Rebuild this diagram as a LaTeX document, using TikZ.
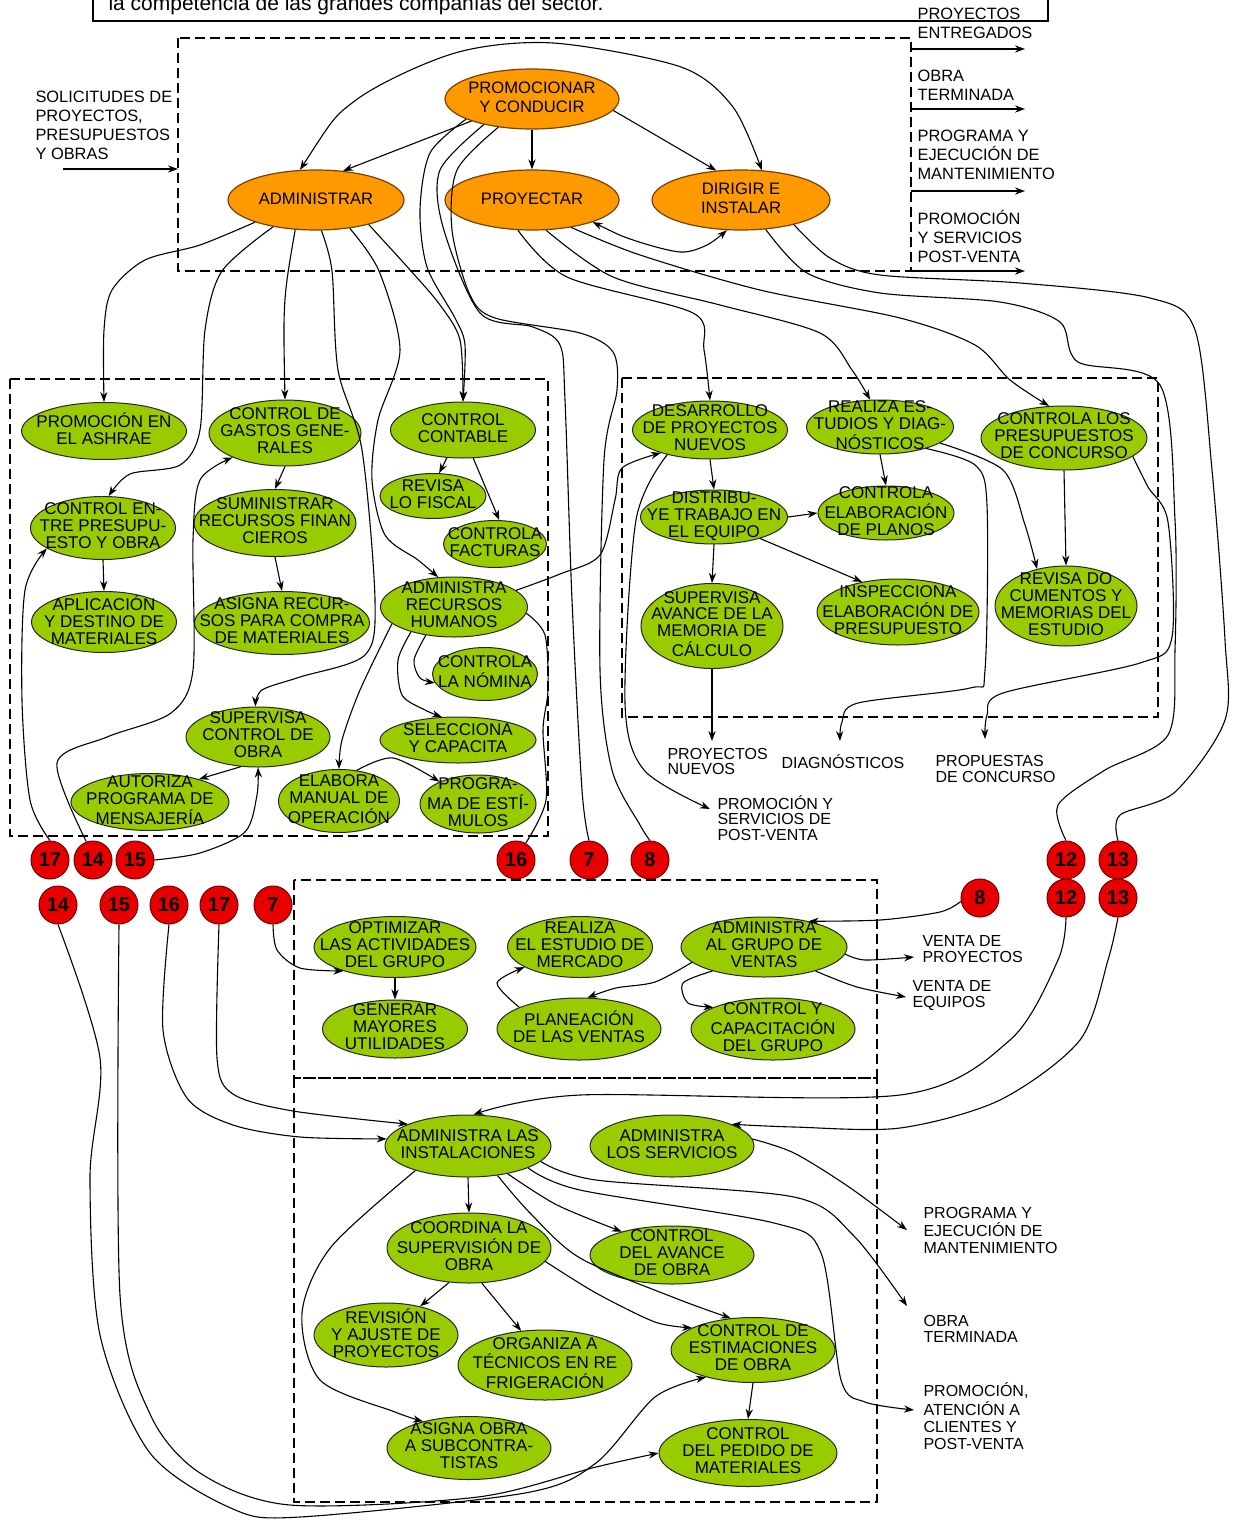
\documentclass[tikz,border=0pt]{standalone}
\usepackage{fontspec}
\setmainfont{Liberation Sans}
\usetikzlibrary{shapes,arrows,arrows.meta,positioning}
\definecolor{orangeP}{RGB}{255,153,0}
\definecolor{orangeD}{RGB}{120,65,0}
\definecolor{greenA}{RGB}{153,204,0}
\definecolor{redC}{RGB}{232,0,0}
\newcommand{\ovaltext}[1]{\makebox[0pt]{\raisebox{-2.2pt}[0pt][0pt]{\begin{tabular}{@{}c@{}}#1\end{tabular}}}}
\newcommand{\labeltext}[1]{\begin{tabular}[t]{@{}l@{}}#1\end{tabular}}

\begin{document}
\begin{tikzpicture}[
    x=0.5pt, y=-0.5pt,
    >={Stealth[length=5pt,width=3.6pt]},
    proc/.style={ellipse, draw=orangeD, fill=orangeP, line width=0.6pt, inner sep=0pt, font=\fontsize{8.3}{9.5}\selectfont},
    act/.style={ellipse, draw=black!85, fill=greenA, line width=0.5pt, inner sep=0pt, font=\fontsize{8.5}{8.4}\selectfont},
    conn/.style={circle, draw=red!45!black, fill=redC, line width=0.5pt, minimum size=19pt, inner sep=0pt, font=\fontsize{10}{10}\selectfont\bfseries},
    wh/.style 2 args={minimum width=#1*0.5pt, minimum height=#2*0.5pt},
    outlbl/.style={anchor=base west, inner sep=0pt, font=\fontsize{8.2}{9.5}\selectfont},
    smalllbl/.style={outlbl, font=\fontsize{8}{8.2}\selectfont},
    dashbox/.style={dash pattern=on 5pt off 2.5pt, line width=0.6pt},
    arr/.style={->, line width=0.55pt},
    every path/.append style={line width=0.55pt}
]
\useasboundingbox (0,0) rectangle (1232,1520);

% Caption box
\draw[line width=0.7pt] (93,-30) rectangle (1048,21);
\node[anchor=base west, inner sep=0pt, font=\fontsize{10.5}{12}\selectfont] (caption) at (108,11) {la competencia de las grandes compañías del sector.};

% Dashed blocks
\draw[dashbox] (178,38) rectangle (911,271);
\draw[dashbox] (10,379) rectangle (548,836);
\draw[dashbox] (622,378) rectangle (1158,717);
\draw[dashbox] (294,880) rectangle (877,1078);
\draw[dashbox] (294,1078) rectangle (877,1502);

% Main processes
\node[proc, wh={174}{60}] (promo) at (532,99) {\ovaltext{PROMOCIONAR\\Y CONDUCIR}};
\node[proc, wh={176}{60}] (adm) at (316,200) {\ovaltext{ADMINISTRAR}};
\node[proc, wh={174}{60}] (proy) at (532,200) {\ovaltext{PROYECTAR}};
\node[proc, wh={178}{60}] (dir) at (741,200) {\ovaltext{DIRIGIR E\\INSTALAR}};

% Inputs and outputs of the top block
\node[outlbl] (lSol) at (35,103) {\labeltext{SOLICITUDES DE\\PROYECTOS,\\PRESUPUESTOS\\Y OBRAS}};
\coordinate (inS) at (63,169);
\coordinate (inE) at (178,169);
\draw[arr] (inS) -- (inE);
\node[outlbl] (lPE) at (917,20) {\labeltext{PROYECTOS\\ENTREGADOS}};
\node[outlbl] (lOT) at (917,82) {\labeltext{OBRA\\TERMINADA}};
\node[outlbl] (lPM) at (917,141) {\labeltext{PROGRAMA Y\\EJECUCIÓN DE\\MANTENIMIENTO}};
\node[outlbl] (lPS) at (917,224) {\labeltext{PROMOCIÓN\\Y SERVICIOS\\POST-VENTA}};
\coordinate (os1) at (911,49);  \coordinate (oe1) at (1025,49);
\coordinate (os2) at (911,109); \coordinate (oe2) at (1025,109);
\coordinate (os3) at (911,191); \coordinate (oe3) at (1025,191);
\coordinate (os4) at (911,271); \coordinate (oe4) at (1025,271);
\draw[arr] (os1) -- (oe1);
\draw[arr] (os2) -- (oe2);
\draw[arr] (os3) -- (oe3);
\draw[arr] (os4) -- (oe4);

% Administrar block
\node[act, wh={165}{57}] (ashrae) at (104,431) {\ovaltext{PROMOCIÓN EN\\EL ASHRAE}};
\node[act, wh={152}{66}] (gastos) at (285,433) {\ovaltext{CONTROL DE\\GASTOS GENE-\\RALES}};
\node[act, wh={145}{56}] (contable) at (463,430) {\ovaltext{CONTROL\\CONTABLE}};
\node[act, wh={106}{45}] (revisa) at (433,496) {\ovaltext{REVISA\\LO FISCAL}};
\node[act, wh={103}{47}] (facturas) at (495,544) {\ovaltext{CONTROLA\\FACTURAS}};
\node[act, wh={145}{63}] (ctrlEntre) at (103,528) {\ovaltext{CONTROL EN-\\TRE PRESUPU-\\ESTO Y OBRA}};
\node[act, wh={162}{67}] (suministrar) at (275,523) {\ovaltext{SUMINISTRAR\\RECURSOS FINAN\\CIEROS}};
\node[act, wh={145}{61}] (aplicacion) at (104,622) {\ovaltext{APLICACIÓN\\Y DESTINO DE\\MATERIALES}};
\node[act, wh={175}{63}] (asigna) at (282,623) {\ovaltext{ASIGNA RECUR-\\SOS PARA COMPRA\\DE MATERIALES}};
\node[act, wh={147}{60}] (rrhh) at (454,607) {\ovaltext{ADMINISTRA\\RECURSOS\\HUMANOS}};
\node[act, wh={105}{53}] (nomina) at (485,674) {\ovaltext{CONTROLA\\LA NÓMINA}};
\node[act, wh={144}{60}] (supervisa) at (258,737) {\ovaltext{SUPERVISA\\CONTROL DE\\OBRA}};
\node[act, wh={156}{46}] (selecciona) at (458,740) {\ovaltext{SELECCIONA\\Y CAPACITA}};
\node[act, wh={158}{57}] (autoriza) at (150,802) {\ovaltext{AUTORIZA\\PROGRAMA DE\\MENSAJERÍA}};
\node[act, wh={121}{63}] (manual) at (339,801) {\ovaltext{ELABORA\\MANUAL DE\\OPERACIÓN}};
\node[act, wh={116}{58}] (estimulos) at (478,804) {\ovaltext{PROGRA-\\MA DE ESTÍ-\\MULOS}};

% Proyectar block
\node[act, wh={155}{58}] (desarrollo) at (710,430) {\ovaltext{DESARROLLO\\DE PROYECTOS\\NUEVOS}};
\node[act, wh={147}{54}] (estudios) at (880,427) {\ovaltext{REALIZA ES-\\TUDIOS Y DIAG-\\NÓSTICOS}};
\node[act, wh={166}{64}] (concurso) at (1064,438) {\ovaltext{CONTROLA LOS\\PRESUPUESTOS\\DE CONCURSO}};
\node[act, wh={147}{54}] (distribuye) at (714,517) {\ovaltext{DISTRIBU-\\YE TRABAJO EN\\EL EQUIPO}};
\node[act, wh={136}{54}] (planos) at (886,513) {\ovaltext{CONTROLA\\ELABORACIÓN\\DE PLANOS}};
\node[act, wh={142}{85}] (supmemoria) at (712,626) {\ovaltext{SUPERVISA\\AVANCE DE LA\\MEMORIA DE\\CÁLCULO}};
\node[act, wh={162}{66}] (inspecciona) at (898,612) {\ovaltext{INSPECCIONA\\ELABORACIÓN DE\\PRESUPUESTO}};
\node[act, wh={142}{80}] (revisadoc) at (1066,606) {\ovaltext{REVISA DO\\CUMENTOS Y\\MEMORIAS DEL\\ESTUDIO}};

\coordinate (oPN) at (712,741);
\coordinate (oDG) at (840,741);
\coordinate (oPC) at (985,739);
\coordinate (oPV) at (710,809);
\node[outlbl, font=\fontsize{8}{7.6}\selectfont] (lPN) at (667,759) {\labeltext{PROYECTOS\\NUEVOS}};
\node[outlbl, font=\fontsize{8}{7.6}\selectfont] (lDG) at (781,768) {\labeltext{DIAGNÓSTICOS}};
\node[outlbl, font=\fontsize{8}{8.4}\selectfont] (lPC) at (935,766) {\labeltext{PROPUESTAS\\DE CONCURSO}};
\node[outlbl, font=\fontsize{8}{7.6}\selectfont] (lPV) at (717,809) {\labeltext{PROMOCIÓN Y\\SERVICIOS DE\\POST-VENTA}};

% Ventas block
\node[act, wh={162}{61}] (optimizar) at (395,947) {\ovaltext{OPTIMIZAR\\LAS ACTIVIDADES\\DEL GRUPO}};
\node[act, wh={145}{58}] (generar) at (395,1029) {\ovaltext{GENERAR\\MAYORES\\UTILIDADES}};
\node[act, wh={145}{61}] (mercado) at (580,947) {\ovaltext{REALIZA\\EL ESTUDIO DE\\MERCADO}};
\node[act, wh={164}{62}] (planeacion) at (579,1029) {\ovaltext{PLANEACIÓN\\DE LAS VENTAS}};
\node[act, wh={166}{60}] (grupoVentas) at (764,947) {\ovaltext{ADMINISTRA\\AL GRUPO DE\\VENTAS}};
\node[act, wh={164}{62}] (ctrlGrupo) at (773,1029) {\ovaltext{CONTROL Y\\CAPACITACIÓN\\DEL GRUPO}};

\coordinate (oVP) at (914,957);
\coordinate (oVE) at (906,997);
\node[outlbl, font=\fontsize{8}{8}\selectfont] (lVP) at (922,946) {\labeltext{VENTA DE\\PROYECTOS}};
\node[outlbl, font=\fontsize{8}{8}\selectfont] (lVE) at (912,991) {\labeltext{VENTA DE\\EQUIPOS}};

% Instalaciones block
\node[act, wh={166}{62}] (instalaciones) at (468,1146) {\ovaltext{ADMINISTRA LAS\\INSTALACIONES}};
\node[act, wh={164}{62}] (servicios) at (672,1146) {\ovaltext{ADMINISTRA\\LOS SERVICIOS}};
\node[act, wh={164}{70}] (coordina) at (469,1248) {\ovaltext{COORDINA LA\\SUPERVISIÓN DE\\OBRA}};
\node[act, wh={164}{58}] (avance) at (672,1255) {\ovaltext{CONTROL\\DEL AVANCE\\DE OBRA}};
\node[act, wh={144}{64}] (revision) at (386,1335) {\ovaltext{REVISIÓN\\Y AJUSTE DE\\PROYECTOS}};
\node[act, wh={174}{70}] (organiza) at (545,1365) {\ovaltext{ORGANIZA A\\TÉCNICOS EN RE\\FRIGERACIÓN}};
\node[act, wh={164}{65}] (estimaciones) at (753,1350) {\ovaltext{CONTROL DE\\ESTIMACIONES\\DE OBRA}};
\node[act, wh={164}{63}] (subcontra) at (469,1448) {\ovaltext{ASIGNA OBRA\\A SUBCONTRA-\\TISTAS}};
\node[act, wh={178}{67}] (pedido) at (748,1453) {\ovaltext{CONTROL\\DEL PEDIDO DE\\MATERIALES}};

\coordinate (oPM) at (907,1230);
\coordinate (oOT) at (907,1306);
\coordinate (oPA) at (914,1410);
\node[smalllbl] (lPM2) at (923,1218) {\labeltext{PROGRAMA Y\\EJECUCIÓN DE\\MANTENIMIENTO}};
\node[smalllbl] (lOT2) at (923,1326) {\labeltext{OBRA\\TERMINADA}};
\node[smalllbl, font=\fontsize{8}{8.7}\selectfont] (lPA) at (923,1396) {\labeltext{PROMOCIÓN,\\ATENCIÓN A\\CLIENTES Y\\POST-VENTA}};

% Off-page connectors
\node[conn] (c17a) at (50,860) {17};
\node[conn] (c14a) at (93,860) {14};
\node[conn] (c15a) at (135,860) {15};
\node[conn] (c16a) at (516,860) {16};
\node[conn] (c7a) at (589,860) {7};
\node[conn] (c8a) at (650,860) {8};
\node[conn] (c12a) at (1066,860) {12};
\node[conn] (c13a) at (1118,860) {13};
\node[conn] (c14b) at (58,905) {14};
\node[conn] (c15b) at (119,905) {15};
\node[conn] (c16b) at (169,905) {16};
\node[conn] (c17b) at (219,905) {17};
\node[conn] (c7b) at (273,905) {7};
\node[conn] (c8b) at (980,898) {8};
\node[conn] (c12b) at (1066,898) {12};
\node[conn] (c13b) at (1118,898) {13};

% Top level links
\draw[arr] (promo.200) -- (adm.47);
\draw[arr] (promo.south) -- (proy.north);
\draw[arr] (promo.-8) -- (dir.130);
\draw[<->] plot[smooth] coordinates {(adm.118) (356,100) (455,53) (553,43) (681,67) (733,107) (dir.55)};
\draw[<->] plot[smooth] coordinates {(proy.-20) (633,240) (680,252) (707,245) (dir.-115)};

% From Administrar
\draw[arr] plot[smooth] coordinates {(adm.-160) (200,245) (145,260) (112,290) (104,330) (ashrae.north)};
\draw[arr] plot[smooth] coordinates {(adm.-148) (222,271) (205,330) (200,430) (180,465) (130,474) (ctrlEntre.80)};
\draw[arr] (adm.-125) .. controls (283,300) .. (gastos.north);
\draw[arr] plot[smooth] coordinates {(adm.-80) (332,271) (338,370) (362,450) (375,600) (365,655) (300,677) (262,690) (supervisa.95)};
\draw[arr] plot[smooth] coordinates {(adm.-40) (379,271) (400,350) (378,420) (372,480) (385,535) (418,560) (rrhh.118)};
\draw[arr] plot[smooth] coordinates {(adm.-25) (411,271) (440,305) (460,340) (contable.north)};

% From Promocionar
\draw[arr] plot[smooth] coordinates {(promo.-163) (430,153) (420,210) (427,267) (455,318) (465,345) (contable.north)};
\draw plot[smooth] coordinates {(promo.-152) (440,170) (443,227) (480,313) (533,327) (560,345) (565,400) (572,600) (582,790) (c7a.north)};
\draw plot[smooth] coordinates {(promo.-140) (457,170) (452,230) (470,295) (495,318) (580,333) (613,352) (617,390) (604,460) (600,670) (612,770) (640,825) (c8a.north)};

% From Proyectar
\draw[arr] plot[smooth] coordinates {(proy.-115) (567,277) (693,313) (704,350) (desarrollo.north)};
\draw[arr] plot[smooth] coordinates {(proy.-65) (613,277) (720,305) (820,333) (852,370) (estudios.110)};
\draw[arr] plot[smooth] coordinates {(proy.-35) (640,255) (760,290) (900,318) (975,345) (1010,380) (concurso.115)};

% From Dirigir
\draw plot[smooth] coordinates {(dir.-50) (807,273) (880,293) (1000,302) (1060,322) (1078,362) (1160,385) (1175,520) (1175,650) (1168,735) (1105,770) (1058,805) (c12a.north)};
\draw plot[smooth] coordinates {(dir.-25) (830,258) (880,275) (1020,283) (1150,298) (1195,330) (1212,470) (1225,640) (1225,720) (1175,792) (1120,815) (c13a.north)};

% Inside Administrar block
\draw[arr] (ctrlEntre.south) -- (aplicacion.north);
\draw[arr] (gastos.south) -- (suministrar.north);
\draw[arr] (suministrar.south) -- (asigna.north);
\draw[arr] (contable.-120) -- (revisa.75);
\draw[arr] (contable.-70) -- (facturas.80);
\draw[arr] plot[smooth] coordinates {(rrhh.-135) (414,660) (420,678) (nomina.190)};
\draw[arr] plot[smooth] coordinates {(rrhh.-150) (398,660) (402,695) (425,710) (selecciona.125)};
\draw[arr] plot[smooth] coordinates {(rrhh.-165) (360,690) (342,740) (manual.north)};
\draw[arr] plot[smooth] coordinates {(manual.60) (393,758) (estimulos.150)};
\draw[arr] (supervisa.-120) -- (autoriza.25);
\draw plot[smooth] coordinates {(rrhh.-5) (545,635) (548,690) (543,730) (546,800) (c16a.60)};
\draw[arr] plot[smooth] coordinates {(rrhh.15) (560,574) (600,555) (615,500) (622,468) (desarrollo.205)};
\draw[arr] plot[smooth] coordinates {(c17a.north) (30,800) (22,700) (25,590) (ctrlEntre.-160)};
\draw[arr] plot[smooth] coordinates {(c14a.110) (57,763) (107,737) (171,713) (193,670) (193,540) (200,480) (gastos.-155)};
\draw[arr] plot[smooth] coordinates {(c15a.east) (200,853) (245,832) (257,795) (supervisa.south)};

% Inside Proyectar block
\draw[arr] (desarrollo.south) -- (distribuye.north);
\draw[arr] (estudios.south) -- (planos.north);
\draw[arr] (concurso.south) -- (revisadoc.north);
\draw[arr] plot[smooth] coordinates {(estudios.-15) (1003,470) (1025,525) (revisadoc.128)};
\draw[arr] (distribuye.east) -- (planos.west);
\draw[arr] (distribuye.-25) -- (inspecciona.140);
\draw[arr] (distribuye.south) -- (supmemoria.north);
\draw[arr] (supmemoria.south) -- (oPN);
\draw[arr] plot[smooth] coordinates {(estudios.-25) (975,465) (987,505) (985,670) (970,688) (858,703) (842,722) (oDG)};
\draw[arr] plot[smooth] coordinates {(concurso.-15) (1148,487) (1168,522) (1172,637) (1140,663) (1003,693) (987,715) (oPC)};
\draw[arr] plot[smooth] coordinates {(desarrollo.-150) (636,520) (625,703) (644,770) (oPV)};

% Ventas block
\draw[arr] plot[smooth] coordinates {(c7b.south) (277,950) (300,968) (optimizar.-155)};
\draw[arr] (optimizar.south) -- (generar.north);
\draw[arr] plot[smooth] coordinates {(planeacion.160) (497,983) (mercado.-160)};
\draw[arr] plot[smooth] coordinates {(grupoVentas.-168) (655,982) (616,988) (planeacion.75)};
\draw[arr] plot[smooth] coordinates {(grupoVentas.-155) (683,983) (688,1003) (ctrlGrupo.160)};
\draw[arr] plot[smooth] coordinates {(c8b.190) (940,912) (880,920) (grupoVentas.30)};
\draw[arr] plot[smooth] coordinates {(grupoVentas.-5) (865,960) (oVP)};
\draw[arr] plot[smooth] coordinates {(grupoVentas.-25) (857,987) (oVE)};

% Instalaciones block
\draw[arr] (instalaciones.south) -- (coordina.north);
\draw[arr] plot[smooth] coordinates {(instalaciones.-35) (557,1205) (avance.155)};
\draw[arr] plot[smooth] coordinates {(instalaciones.-45) (530,1213) (580,1258) (675,1298) (estimaciones.125)};
\draw[arr] plot[smooth] coordinates {(coordina.-10) (596,1293) (655,1322) (estimaciones.160)};
\draw[arr] (coordina.-120) -- (revision.40);
\draw[arr] (coordina.-70) -- (organiza.125);
\draw[arr] plot[smooth] coordinates {(instalaciones.-155) (331,1247) (302,1313) (320,1380) (395,1412) (subcontra.150)};
\draw[arr] (estimaciones.south) -- (pedido.north);
\draw[arr] plot[smooth] coordinates {(servicios.5) (794,1153) (849,1187) (oPM)};
\draw[arr] plot[smooth] coordinates {(instalaciones.-12) (596,1180) (794,1197) (853,1235) (oOT)};
\draw[arr] plot[smooth] coordinates {(instalaciones.-20) (580,1190) (774,1223) (821,1253) (841,1380) (865,1402) (oPA)};
\draw[arr] plot[smooth] coordinates {(c12b.south) (1058,960) (1010,1040) (900,1095) (580,1095) (instalaciones.80)};
\draw[arr] plot[smooth] coordinates {(c13b.south) (1108,960) (1080,1040) (1000,1100) (900,1128) (794,1127) (servicios.20)};
\draw[arr] plot[smooth] coordinates {(c17b.south) (217,1058) (233,1094) (293,1111) (instalaciones.160)};
\draw[arr] plot[smooth] coordinates {(c16b.south) (163,1030) (187,1098) (233,1125) (300,1137) (instalaciones.175)};
\draw[arr] plot[smooth] coordinates {(c14b.south) (100,1058) (90,1177) (100,1335) (150,1453) (233,1509) (300,1517) (525,1493) (596,1463) (655,1397) (estimaciones.-150)};
\draw[arr] plot[smooth] coordinates {(c15b.south) (120,1295) (150,1414) (200,1473) (290,1505) (478,1497) (596,1467) (pedido.west)};
\end{tikzpicture}
\end{document}
